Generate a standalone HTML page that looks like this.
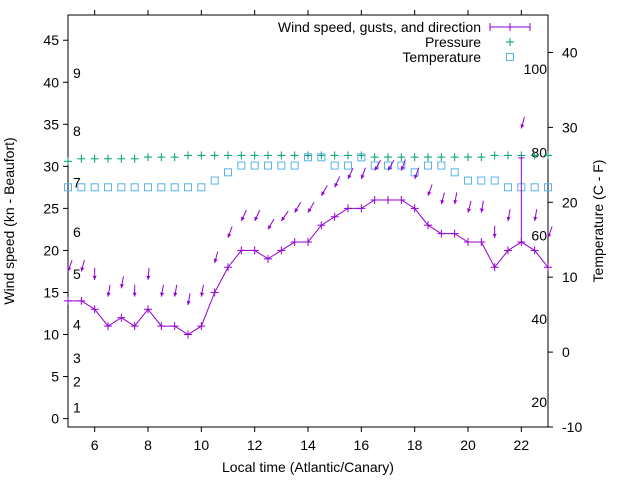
<!DOCTYPE html>
<html><head><meta charset="utf-8"><style>
html,body{margin:0;padding:0;background:#fff;}
svg{display:block;font-family:"Liberation Sans",sans-serif;}
</style></head><body>
<svg id="chart" width="640" height="480" viewBox="0 0 640 480" xmlns="http://www.w3.org/2000/svg"></svg>
<script>
const times=[5,5.5,6,6.5,7,7.5,8,8.5,9,9.5,10,10.5,11,11.5,12,12.5,13,13.5,14,14.5,15,15.5,16,16.5,17,17.5,18,18.5,19,19.5,20,20.5,21,21.5,22,22.5,23];
const windSpeed=[14,14,13,11,12,11,13,11,11,10,11,15,18,20,20,19,20,21,21,23,24,25,25,26,26,26,25,23,22,22,21,21,18,20,21,20,18];
const gusts=[null,null,null,null,null,null,null,null,null,null,null,null,null,null,null,null,null,null,null,null,null,null,null,null,null,null,null,null,null,null,null,null,null,null,31,null,null];
const windDir=[20,15,0,10,10,0,5,10,10,10,10,15,20,25,25,30,35,30,30,30,25,25,20,30,30,20,20,20,15,10,15,10,0,10,15,10,20];
const pressure=[30.6,30.9,30.9,30.9,30.9,30.9,31.1,31.1,31.1,31.3,31.3,31.3,31.3,31.3,31.3,31.3,31.3,31.3,31.3,31.3,31.3,31.3,31.3,31.1,31.1,31.1,31.1,31.1,31.1,31.1,31.1,31.1,31.3,31.3,31.3,31.3,31.3];
const temperature=[22,22,22,22,22,22,22,22,22,22,22,22.9,24,24.9,24.9,24.9,24.9,24.9,26,26,24.9,24.9,26,24.9,24.9,24.9,24,24.9,24.9,24,22.9,22.9,22.9,22,22,22,22];
const xTicks=[6,8,10,12,14,16,18,20,22];
const yTicks=[0,5,10,15,20,25,30,35,40,45];
const y2Ticks=[-10,0,10,20,30,40];
const beaufortLabels=["1","2","3","4","5","6","7","8","9"];
const beaufortPos=[1.3,4.4,7.2,11.2,17.2,22.2,28.1,34.2,41.1];
const fahrenheitLabels=[20,40,60,80,100];

const L=68,R=548,T=15,B=427;
const X=t=>L+(t-5)/(23-5)*(R-L);
const Y=v=>B-(v+1)/(48+1)*(B-T);
const Y2=c=>B-(c+10)/(45+10)*(B-T);
const svg=document.getElementById('chart');
const NS='http://www.w3.org/2000/svg';
function mk(tag,attrs,parent){const e=document.createElementNS(NS,tag);for(const k in attrs)e.setAttribute(k,attrs[k]);(parent||svg).appendChild(e);return e;}
function txt(s,x,y,anchor,parent){const e=mk('text',{x:x,y:y,'text-anchor':anchor||'middle','font-size':'14',fill:'#000'},parent);e.textContent=s;return e;}

const frame=mk('rect',{x:L,y:T,width:R-L,height:B-T,fill:'none',stroke:'#000','stroke-width':1});



xTicks.forEach(t=>{
  const g=mk('g',{});
  
  
  mk('line',{x1:X(t),x2:X(t),y1:B,y2:B+5,stroke:'#000'},g);
  mk('line',{x1:X(t),x2:X(t),y1:T,y2:T-5,stroke:'#000'},g);
  txt(String(t),X(t),450,'middle',g);
});
yTicks.forEach(v=>{
  const g=mk('g',{});
  
  
  mk('line',{x1:L-5,x2:L,y1:Y(v),y2:Y(v),stroke:'#000'},g);
  txt(String(v),L-9,Y(v)+5,'end',g);
});
y2Ticks.forEach(v=>{
  const g=mk('g',{});
  
  
  mk('line',{x1:R,x2:R+5,y1:Y2(v),y2:Y2(v),stroke:'#000'},g);
  txt(String(v),R+14,Y2(v)+5,'start',g);
});
beaufortLabels.forEach((s,i)=>{
  const e=txt(s,73,Y(beaufortPos[i])+5,'start');
  
  
});
fahrenheitLabels.forEach(f=>{
  const e=txt(String(f),547,Y2((f-32)/1.8)+5,'end');
  
  
});

let e=txt('Local time (Atlantic/Canary)',308,472,'middle');


e=txt('Wind speed (kn - Beaufort)',0,0,'middle');
e.setAttribute('transform','translate(14,221) rotate(-90)');


e=txt('Temperature (C - F)',0,0,'middle');
e.setAttribute('transform','translate(603,221) rotate(-90)');



const purple='#9400d3',green='#009e73',blue='#56b4e9';

pressure.forEach((p,i)=>{
  const g=mk('g',{stroke:green,'stroke-width':1});
  
  
  const x=X(times[i]),y=Y(p);
  mk('line',{x1:x-4,x2:x+4,y1:y,y2:y},g);mk('line',{x1:x,x2:x,y1:y-4,y2:y+4},g);
});
temperature.forEach((c,i)=>{
  const r=mk('rect',{x:X(times[i])-3.5,y:Y2(c)-3.5,width:7,height:7,fill:'none',stroke:blue,'stroke-width':1});
  
  
});
const pl=mk('polyline',{points:times.map((t,i)=>X(t)+','+Y(windSpeed[i])).join(' '),fill:'none',stroke:purple,'stroke-width':1});


windSpeed.forEach((w,i)=>{
  const g=mk('g',{stroke:purple,'stroke-width':1});
  
  
  const x=X(times[i]),y=Y(w);
  mk('line',{x1:x-4,x2:x+4,y1:y,y2:y},g);mk('line',{x1:x,x2:x,y1:y-4,y2:y+4},g);
  if(gusts[i]!=null){
    mk('line',{x1:x,x2:x,y1:y,y2:Y(gusts[i])},g);
    mk('line',{x1:x-3,x2:x+3,y1:Y(gusts[i]),y2:Y(gusts[i])},g);
  }
});
windDir.forEach((d,i)=>{
  const g=mk('g',{});
  
  
  const top=Math.max(windSpeed[i],gusts[i]||0)+3.5;
  const tx=X(times[i]),ty=Y(top);
  const a=d*Math.PI/180;
  const ux=-Math.sin(a),uy=Math.cos(a);
  const len=12;
  mk('line',{x1:tx-ux*len,y1:ty-uy*len,x2:tx,y2:ty,stroke:purple,'stroke-width':1},g);
  const hl=4,hw=2;
  const bx=tx-ux*hl,by=ty-uy*hl;
  mk('polygon',{points:`${tx},${ty} ${bx+uy*hw},${by-ux*hw} ${bx-uy*hw},${by+ux*hw}`,fill:purple},g);
});

const lg=mk('g',{});


[['Wind speed, gusts, and direction',27],['Pressure',42],['Temperature',57]].forEach(([s,y])=>{
  const t=txt(s,481,y+5,'end',lg);
  
  
});
mk('line',{x1:490,x2:530,y1:27,y2:27,stroke:purple},lg);
mk('line',{x1:490,x2:490,y1:23,y2:31,stroke:purple},lg);
mk('line',{x1:530,x2:530,y1:23,y2:31,stroke:purple},lg);
mk('line',{x1:510,x2:510,y1:23,y2:31,stroke:purple},lg);
mk('line',{x1:506,x2:514,y1:42,y2:42,stroke:green},lg);
mk('line',{x1:510,x2:510,y1:38,y2:46,stroke:green},lg);
mk('rect',{x:506.5,y:53.5,width:7,height:7,fill:'none',stroke:blue},lg);
</script>
</body></html>
